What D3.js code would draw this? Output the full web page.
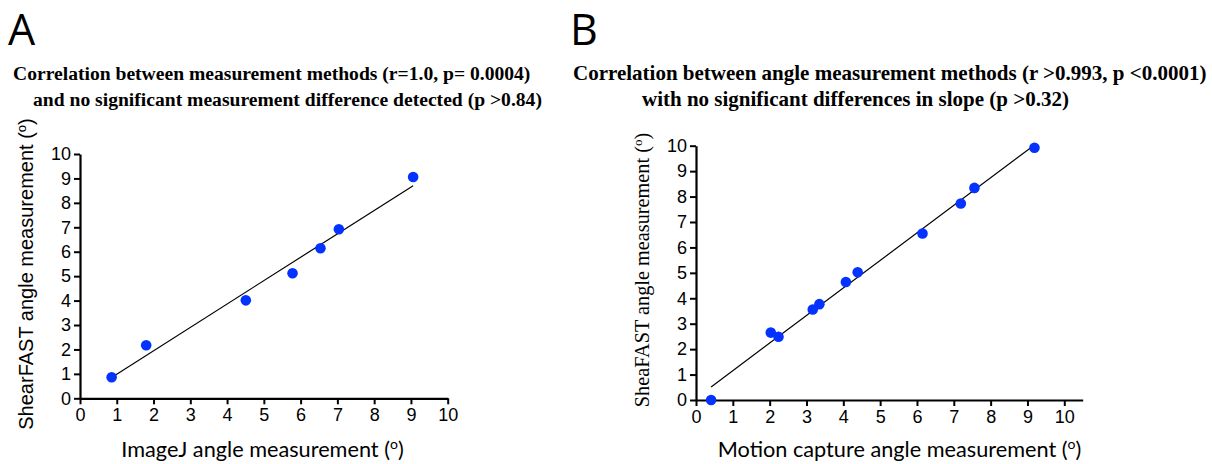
<!DOCTYPE html>
<html>
<head>
<meta charset="utf-8">
<script src="https://cdn.jsdelivr.net/npm/d3@7"></script>
<style>
  body { margin: 0; background: #fff; }
  svg { display: block; }
</style>
</head>
<body>
<svg id="chart" width="1212" height="464"></svg>
<script>
// panel A: ImageJ vs ShearFAST
var imagej_x = [0.86, 1.80, 4.51, 5.78, 6.54, 7.04, 9.06];
var shearfast_a_y = [0.86, 2.17, 4.01, 5.12, 6.14, 6.92, 9.06];

// panel B: motion capture vs ShearFAST
var motion_x = [0.41, 2.03, 2.24, 3.17, 3.35, 4.07, 4.39, 6.15, 7.19, 7.56, 9.19];
var shearfast_b_y = [0.00, 2.65, 2.49, 3.56, 3.77, 4.64, 5.02, 6.55, 7.73, 8.34, 9.92];

var tick_values = [0, 1, 2, 3, 4, 5, 6, 7, 8, 9, 10];

var titles_a = ["Correlation between measurement methods (r=1.0, p= 0.0004)",
                "and no significant measurement difference detected (p >0.84)"];
var titles_b = ["Correlation between angle measurement methods (r >0.993, p <0.0001)",
                "with no significant differences in slope (p >0.32)"];

var dot_color = "#0433ff";
var svg = d3.select("#chart");

// least squares line between the first and last x
function fit_line(xs, ys) {
  var mx = d3.mean(xs), my = d3.mean(ys);
  var sxy = 0, sxx = 0;
  for (let i = 0; i < xs.length; i++) {
    sxy += (xs[i] - mx) * (ys[i] - my);
    sxx += (xs[i] - mx) * (xs[i] - mx);
  }
  var slope = sxy / sxx;
  var icpt = my - slope * mx;
  var x0 = d3.min(xs), x1 = d3.max(xs);
  return [[x0, icpt + slope * x0], [x1, icpt + slope * x1]];
}

function draw_panel(opts) {
  var g = svg.append("g");
  var x = d3.scaleLinear().domain(opts.xdomain).range(opts.xrange);
  var y = d3.scaleLinear().domain([0, 10]).range(opts.yrange);

  // axes
  var xaxis = g.append("g")
    .attr("transform", "translate(0," + opts.yrange[0] + ")")
    .call(d3.axisBottom(x).tickValues(tick_values).tickSize(6).tickSizeOuter(0).tickPadding(4));
  var yaxis = g.append("g")
    .attr("transform", "translate(" + opts.xrange[0] + ",0)")
    .call(d3.axisLeft(y).tickValues(tick_values).tickSize(6).tickSizeOuter(0).tickPadding(3));
  [xaxis, yaxis].forEach(function(a) {
    a.select(".domain").attr("stroke", "#000").attr("stroke-width", 2.2);
    a.selectAll(".tick line").attr("stroke", "#000").attr("stroke-width", 2);
    a.selectAll(".tick text")
      .attr("fill", "#000")
      .style("font-family", "'Liberation Sans', Arial, sans-serif")
      .style("font-size", "18px");
  });

  // fit line
  var ends = fit_line(opts.xs, opts.ys);
  g.append("path")
    .attr("d", d3.line().x(d => x(d[0])).y(d => y(d[1]))(ends))
    .attr("stroke", "#000")
    .attr("stroke-width", 1.2)
    .attr("fill", "none");

  // points
  g.selectAll("circle.pt")
    .data(opts.xs.map((v, i) => [v, opts.ys[i]]))
    .enter().append("circle")
    .attr("class", "pt")
    .attr("cx", d => x(d[0]))
    .attr("cy", d => y(d[1]))
    .attr("r", 5.3)
    .attr("fill", dot_color);

  // panel letter
  g.append("text")
    .attr("x", opts.letter_x).attr("y", 45)
    .style("font-family", "'Open Sans', 'Liberation Sans', sans-serif")
    .style("font-size", "43px")
    .text(opts.letter);

  // title, two lines
  g.selectAll("text.title")
    .data(opts.titles)
    .enter().append("text")
    .attr("class", "title")
    .attr("x", (d, i) => opts.title_xs[i])
    .attr("y", (d, i) => 80 + i * 26)
    .style("font-family", "'Liberation Serif', 'Times New Roman', serif")
    .style("font-weight", "bold")
    .style("font-size", opts.title_size)
    .text(d => d);

  // x label
  var xl = g.append("text")
    .attr("x", opts.xlabel_x).attr("y", 457)
    .attr("text-anchor", "middle")
    .style("font-family", "Lato, 'Open Sans', sans-serif")
    .style("font-size", "21.7px")
    .text(opts.xlabel + " (");
  xl.append("tspan").attr("dy", -8).style("font-size", "14px").text("o");
  xl.append("tspan").attr("dy", 8).text(")");

  // y label
  var yl = g.append("text")
    .attr("transform", "translate(" + opts.ylabel_x + "," + opts.ylabel_y + ") rotate(-90)")
    .attr("text-anchor", "middle")
    .style("font-family", opts.ylabel_font)
    .style("font-size", opts.ylabel_size)
    .text(opts.ylabel + " (");
  yl.append("tspan").attr("dy", -7).style("font-size", "13px").text("o");
  yl.append("tspan").attr("dy", 7).text(")");
}

draw_panel({
  xs: imagej_x, ys: shearfast_a_y,
  xdomain: [0, 10], xrange: [80, 447.7], yrange: [398.3, 154],
  letter: "A", letter_x: 8,
  titles: titles_a, title_xs: [13, 33], title_size: "19.6px",
  xlabel: "ImageJ angle measurement", xlabel_x: 262.5,
  ylabel: "ShearFAST angle measurement",
  ylabel_x: 33, ylabel_y: 274,
  ylabel_font: "'Liberation Sans', Arial, sans-serif", ylabel_size: "20px"
});

draw_panel({
  xs: motion_x, ys: shearfast_b_y,
  xdomain: [0, 10.5], xrange: [696, 1082.7], yrange: [400, 145.7],
  letter: "B", letter_x: 570,
  titles: titles_b, title_xs: [573, 642], title_size: "21px",
  xlabel: "Motion capture angle measurement", xlabel_x: 899.5,
  ylabel: "SheaFAST angle measurement",
  ylabel_x: 649, ylabel_y: 270,
  ylabel_font: "'Liberation Serif', 'Times New Roman', serif", ylabel_size: "20.3px"
});
</script>
</body>
</html>
